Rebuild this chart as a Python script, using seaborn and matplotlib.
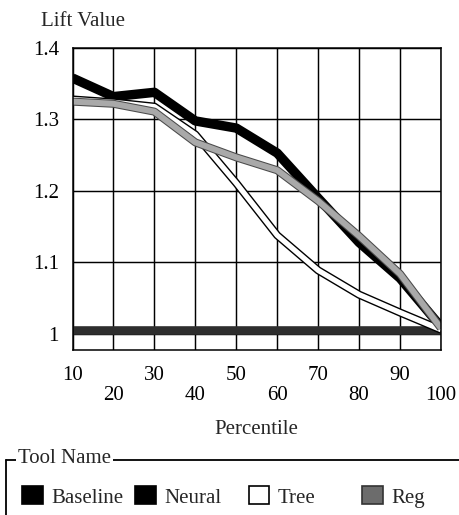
import numpy as np
import pandas as pd
import seaborn as sns
import matplotlib
matplotlib.use('Agg')
import matplotlib.pyplot as plt
import matplotlib.patheffects as pe
from matplotlib.patches import Patch
from matplotlib.lines import Line2D

# data
percentile = [10, 20, 30, 40, 50, 60, 70, 80, 90, 100]
baseline = [1.005, 1.005, 1.005, 1.005, 1.005, 1.005, 1.005, 1.005, 1.005, 1.005]
neural = [1.358, 1.332, 1.338, 1.298, 1.288, 1.253, 1.190, 1.128, 1.078, 1.010]
tree = [1.328, 1.324, 1.318, 1.279, 1.211, 1.138, 1.089, 1.055, 1.030, 1.006]
reg = [1.325, 1.322, 1.311, 1.268, 1.247, 1.229, 1.186, 1.137, 1.084, 1.008]
tool_names = ["Baseline", "Neural", "Tree", "Reg"]
y_ticks = [1.0, 1.1, 1.2, 1.3, 1.4]
y_tick_labels = ["1", "1.1", "1.2", "1.3", "1.4"]

sns.set_style("white")
plt.rcParams['font.family'] = ['Liberation Serif', 'DejaVu Serif']
plt.rcParams['font.size'] = 15

W, H = 460, 515
fig = plt.figure(figsize=(W / 100, H / 100), dpi=100)
ax = fig.add_axes([72.5 / W, 165 / H, 368.5 / W, 302 / H])

# baseline band
sns.lineplot(x=percentile, y=baseline, ax=ax, color='#2e2e2e', linewidth=6.2,
             solid_capstyle='butt')
# neural: thick black
sns.lineplot(x=percentile, y=neural, ax=ax, color='black', linewidth=6.8,
             solid_capstyle='butt')
# tree: white band with black outline
sns.lineplot(x=percentile, y=tree, ax=ax, color='white', linewidth=3.8,
             solid_capstyle='butt',
             path_effects=[pe.Stroke(linewidth=5.8, foreground='black'), pe.Normal()])
# reg: grey band with dark edge
sns.lineplot(x=percentile, y=reg, ax=ax, color='#a9a9a9', linewidth=4.3,
             solid_capstyle='butt',
             path_effects=[pe.Stroke(linewidth=5.8, foreground='#4a4a4a'), pe.Normal()])

ax.set_xlim(10, 100)
ax.set_ylim(0.9776, 1.4)
ax.set_yticks(y_ticks)
ax.set_yticklabels(y_tick_labels)
ax.set_xticks(percentile)
ax.set_xticklabels([str(p) for p in percentile])

ax.set_axisbelow(True)
ax.grid(True, color='black', linewidth=1.05)
for s in ax.spines.values():
    s.set_color('black')
    s.set_linewidth(1.1)

ax.tick_params(axis='both', direction='out', color='black', width=1.1,
               labelsize=15, labelcolor='black')
ax.tick_params(axis='x', length=5.8, pad=6)
ax.tick_params(axis='y', length=6.8, pad=3)

# stagger the x tick labels in two rows
for i, t in enumerate(ax.xaxis.get_major_ticks()):
    if i % 2 == 1:
        t.set_pad(6 + 14.4)

ax.set_xlabel("Percentile", fontsize=15)
ax.xaxis.set_label_coords(0.5, -0.2616)
ax.xaxis.label.set_va('center')

ax.set_ylabel("Lift Value", fontsize=15, rotation=0)
ax.yaxis.set_label_coords(0.028, 1.088)
ax.yaxis.label.set_ha('center')
ax.yaxis.label.set_va('center')

# legend block, SAS style
line_y = 1 - 460 / H
fig.add_artist(Line2D([6 / W, 1], [line_y, line_y], transform=fig.transFigure,
                      color='black', linewidth=1.3))
fig.add_artist(Line2D([6 / W, 6 / W], [line_y, 0], transform=fig.transFigure,
                      color='black', linewidth=1.3))
fig.text(18 / W, 1 - 463 / H, "Tool Name", fontsize=15, va='baseline', ha='left',
         bbox=dict(facecolor='white', edgecolor='none', pad=1.5))

swatch = {"Baseline": ('black', 'black'), "Neural": ('black', 'black'),
          "Tree": ('white', 'black'), "Reg": ('#6c6c6c', '#333333')}
for i, name in enumerate(tool_names):
    fc, ec = swatch[name]
    x0 = 22 + i * 113.3
    fig.legend(handles=[Patch(facecolor=fc, edgecolor=ec, linewidth=1.2)],
               labels=[name], loc='center left',
               bbox_to_anchor=(x0 / W, 1 - 497 / H), frameon=False,
               borderpad=0, borderaxespad=0, handlelength=1.0,
               handleheight=0.95, handletextpad=0.4, fontsize=15)

plt.savefig('out.png', dpi=100)
